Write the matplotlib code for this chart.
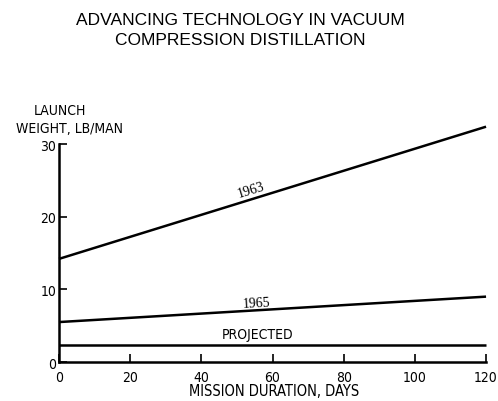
import matplotlib
matplotlib.use("Agg")
import matplotlib.pyplot as plt
from matplotlib import font_manager as fm

days = [0, 120]
w1963 = [14.2, 32.4]
w1965 = [5.5, 9.0]
projected = [2.4, 2.4]
xticks = [0, 20, 40, 60, 80, 100, 120]
yticks = [0, 10, 20, 30]

cond = dict(family='DejaVu Sans', stretch='condensed')
names = sorted({f.name + ':' + str(f.stretch) for f in fm.fontManager.ttflist})
print(names)

fig = plt.figure(figsize=(4.98, 4.02), dpi=100)
ax = fig.add_axes([0.1185, 0.0970, 0.8575, 0.5420])

for ys in (w1963, w1965, projected):
    ax.plot(days, ys, color='black', lw=1.8, clip_on=False, solid_capstyle='butt')

ax.set_xlim(0, 120)
ax.set_ylim(0, 30)
ax.set_xticks(xticks)
ax.set_yticks(yticks)
ax.tick_params(direction='in', length=6, width=1.2, labelsize=10)
ax.tick_params(axis='x', pad=6)
ax.tick_params(axis='y', pad=2)
for lab in ax.get_xticklabels() + ax.get_yticklabels():
    lab.set_fontstretch('condensed')
for s in ('top', 'right'):
    ax.spines[s].set_visible(False)
for s in ('left', 'bottom'):
    ax.spines[s].set_linewidth(1.8)

ax.text(54.5, 22.9, '1963', rotation=17, ha='center', va='bottom', fontsize=10,
        family='Liberation Serif', rotation_mode='anchor')
ax.text(55.7, 7.3, '1965', rotation=3, ha='center', va='bottom', fontsize=10,
        family='Liberation Serif', rotation_mode='anchor')
ax.text(55.7, 3.8, 'PROJECTED', ha='center', va='center', fontsize=10, **cond)

fig.text(0.55, 0.025, 'MISSION DURATION, DAYS', ha='center', va='center', fontsize=10.5, **cond)
fig.text(0.121, 1 - 111 / 402, 'LAUNCH', ha='center', va='center', fontsize=10, **cond)
fig.text(0.139, 1 - 129 / 402, 'WEIGHT, LB/MAN', ha='center', va='center', fontsize=10, **cond)

fig.text(0.482, 0.925, 'ADVANCING TECHNOLOGY IN VACUUM\nCOMPRESSION DISTILLATION',
         ha='center', va='center', fontsize=12.5, linespacing=1.4, family='Liberation Sans')

fig.savefig('out.png', dpi=100, facecolor='white')
